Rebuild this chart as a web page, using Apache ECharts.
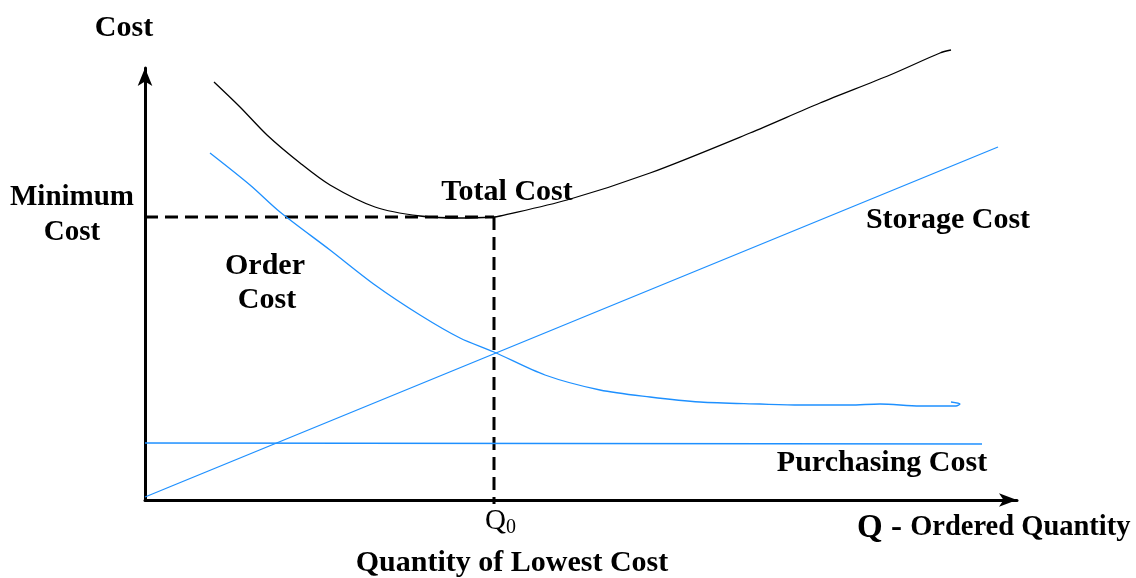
<!DOCTYPE html>
<html><head><meta charset="utf-8">
<script src="https://cdn.jsdelivr.net/npm/echarts@6/dist/echarts.min.js"></script>
<style>html,body{margin:0;padding:0;background:#fff}#c{width:1136px;height:578px}</style>
</head><body><div id="c"></div>
<script>
// Data (x = quantity units, y = cost units)
const totalCost = [[69,418],[95,393],[122,365],[155,337],[185,315],[230,293],[275,284],[315,282],[349,283],[355,284],[422,300],[505,327],[605,367],[675,397],[745,425],[795,447],[806,450]];
const orderCost = [[65,347],[105,315],[135,288],[185,250],[230,215],[275,185],[315,162],[349,148],[400,125],[455,110],[505,103],[555,98],[615,96],[655,95],[705,95],[735,96],[775,94],[811,94],[815,96],[806,98]];
const storageCost = [[0,3],[853,353]];
const purchasingCost = [[0,57],[837,56]];
const q0 = 349, minCost = 283;
const minCostH = [[0,minCost],[q0,minCost]];
const q0V = [[q0,minCost],[q0,-4]];

const F = 'Liberation Serif';
const blue = '#1E90FF';
const chart = echarts.init(document.getElementById('c'));
function t(x,y,text,size){return {type:'text',x:x,y:y,style:{text:text,fontFamily:F,fontWeight:'bold',fontSize:size,fill:'#000',align:'center',verticalAlign:'middle'}};}
chart.setOption({
  animation:false,
  grid:{left:145,right:119,top:68,bottom:78},
  xAxis:{type:'value',min:0,max:872,axisLine:{lineStyle:{color:'#000',width:3},symbol:['none','arrow'],symbolSize:[10,18]},axisTick:{show:false},axisLabel:{show:false},splitLine:{show:false}},
  yAxis:{type:'value',min:0,max:432,axisLine:{show:true,lineStyle:{color:'#000',width:3},symbol:['none','arrow'],symbolSize:[11,18]},axisTick:{show:false},axisLabel:{show:false},splitLine:{show:false}},
  series:[
    {type:'line',data:minCostH,showSymbol:false,clip:false,lineStyle:{color:'#000',width:3,type:[13,7]}},
    {type:'line',data:q0V,showSymbol:false,clip:false,lineStyle:{color:'#000',width:3,type:[13,7]}},
    {type:'line',data:totalCost,smooth:0.3,showSymbol:false,clip:false,lineStyle:{color:'#000',width:1.3}},
    {type:'line',data:orderCost,smooth:0.3,showSymbol:false,clip:false,lineStyle:{color:blue,width:1.3}},
    {type:'line',data:storageCost,showSymbol:false,clip:false,lineStyle:{color:blue,width:1.3}},
    {type:'line',data:purchasingCost,showSymbol:false,clip:false,lineStyle:{color:blue,width:1.3}}
  ],
  graphic:[
    t(124,28,'Cost',30),
    t(72,198,'Minimum',29),
    t(72,233,'Cost',29),
    t(507,192,'Total Cost',30),
    t(265,266,'Order',30),
    t(267,300,'Cost',30),
    t(948,220,'Storage Cost',30),
    t(882,463,'Purchasing Cost',30),
    t(512,563,'Quantity of Lowest Cost',30),
    {type:'text',x:485,y:521,style:{text:'{a|Q}{b|0}',fill:'#000',align:'left',verticalAlign:'middle',rich:{a:{fontFamily:F,fontSize:29,fill:'#000'},b:{fontFamily:F,fontSize:20,fill:'#000',padding:[14,0,0,0]}}}},
    {type:'text',x:857,y:528,style:{text:'{a|Q - }{b|Ordered Quantity}',fill:'#000',align:'left',verticalAlign:'middle',rich:{a:{fontFamily:F,fontWeight:'bold',fontSize:33,fill:'#000'},b:{fontFamily:F,fontWeight:'bold',fontSize:28.5,fill:'#000'}}}}
  ]
});
</script></body></html>
